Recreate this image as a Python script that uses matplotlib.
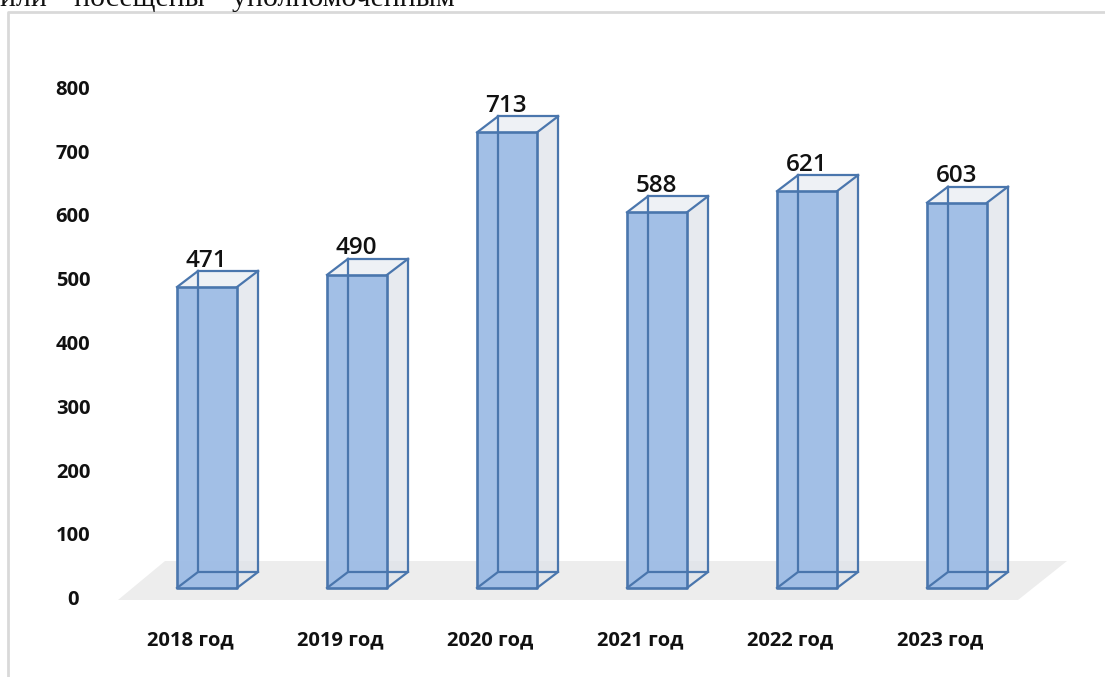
import matplotlib
matplotlib.use("Agg")
import matplotlib.pyplot as plt
from matplotlib.patches import Polygon

years = ['2018 год', '2019 год', '2020 год', '2021 год', '2022 год', '2023 год']
values = [471, 490, 713, 588, 621, 603]
y_ticks = [0, 100, 200, 300, 400, 500, 600, 700, 800]
caption = 'или  "посещены"  уполномоченным'

W, H = 1105, 677
# pixels per category and per unit, bar front base at (207, 588)
px_cat = 150
px_val = 0.639
bw = 60 / px_cat
dx = 21 / px_cat
dy = 16 / px_val

fill_front = '#9dbce5'
fill_side = '#dfe3ea'
fill_top = '#eef1f5'
edge = '#4a76ad'

plt.rcParams['font.family'] = ['Open Sans', 'DejaVu Sans']

fig = plt.figure(figsize=(W / 100, H / 100), dpi=100)
ax = fig.add_axes([0, 0, 1, 1])
ax.set_xlim(-207 / px_cat, (W - 207) / px_cat)
ax.set_ylim((588 - H) / px_val, 588 / px_val)
ax.axis('off')


def px(x, y):
    # pixel offset from the first bar's base, to category/value units
    return (x - 207) / px_cat, (588 - y) / px_val


# frame of the embedded chart
ax.plot(*zip(px(8, 677), px(8, 12), px(1105, 12)), color='#d9d9d9', lw=2, clip_on=False)

# floor
ax.add_patch(Polygon([px(118, 600), px(1018, 600), px(1067, 561), px(165, 561)],
                     closed=True, fc='#ededed', ec='none', zorder=1))

for i, v in enumerate(values):
    l, r = i - bw / 2, i + bw / 2
    ax.add_patch(Polygon([(r, 0), (r + dx, dy), (r + dx, v + dy), (r, v)],
                         fc=fill_side, ec='none', alpha=0.75, zorder=2))
    ax.add_patch(Polygon([(l, v), (l + dx, v + dy), (r + dx, v + dy), (r, v)],
                         fc=fill_top, ec='none', zorder=2))
    ax.add_patch(Polygon([(l, 0), (r, 0), (r, v), (l, v)],
                         fc=fill_front, ec='none', alpha=0.95, zorder=3))
    # back edges show through the front face
    ax.plot([l + dx, l + dx, r + dx, r + dx], [v + dy, dy, dy, v + dy], color=edge, lw=1.6, zorder=4)
    ax.plot([l, l + dx], [0, dy], color=edge, lw=1.6, zorder=4)
    ax.plot([r, r + dx], [0, dy], color=edge, lw=1.6, zorder=4)
    ax.plot([l + dx, r + dx], [v + dy, v + dy], color=edge, lw=1.6, zorder=4)
    ax.plot([l, l + dx], [v, v + dy], color=edge, lw=1.6, zorder=4)
    ax.plot([r, r + dx], [v, v + dy], color=edge, lw=1.6, zorder=4)
    ax.add_patch(Polygon([(l, 0), (r, 0), (r, v), (l, v)],
                         fc='none', ec=edge, lw=1.9, joinstyle='round', zorder=5))
    ax.text(i - 0.005, v + dy - 2.5, str(v), ha='center', va='bottom',
            fontsize=17.5, fontweight='semibold', color='#111111', zorder=6)
    ax.text(i - 0.11, px(0, 640)[1], years[i], ha='center', va='center',
            fontsize=14.5, fontweight='bold', color='#111111')

# tick labels sit a little below their nominal height
for t in y_ticks:
    ax.text(px(73, 0)[0], px(0, 600 - t * 0.6375)[1], str(t), ha='center', va='center',
            fontsize=14.5, fontweight='bold', color='#111111')

ax.text(px(0, 0)[0], px(0, 5.5)[1], caption, ha='left', va='baseline',
        fontsize=21.5, family='Liberation Serif', color='#111111')

fig.savefig('out.png', dpi=100)
